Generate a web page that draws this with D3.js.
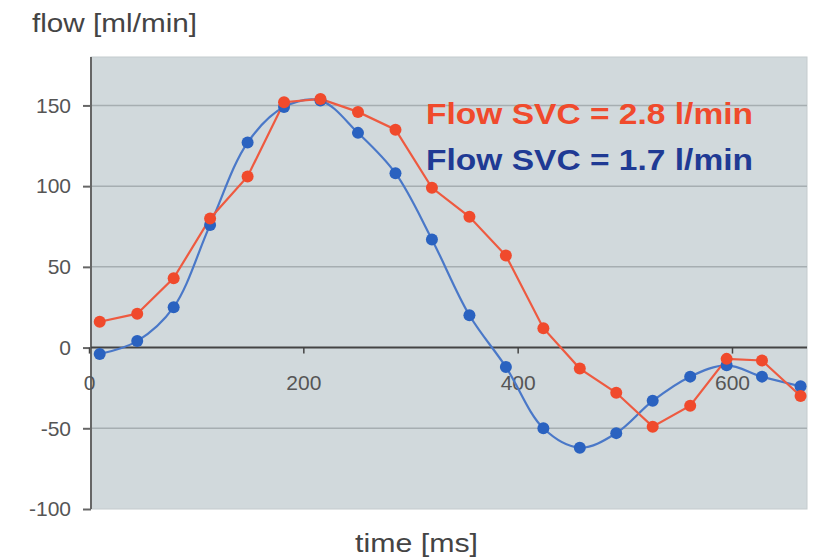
<!DOCTYPE html>
<html lang="en">
    <head>
        <meta charset="utf-8">
        <title>Flow SVC</title>
        <script type="text/javascript" src="https://cdn.jsdelivr.net/npm/d3@7"></script>
        <style type="text/css">
            body { margin: 0; background: #fff; }
            text { font-family: "Liberation Sans", Arial, sans-serif; }
        </style>
    </head>
    <body>
        <script type="text/javascript">

            //Width and height
            var w = 823;
            var h = 560;

            // time of each sample [ms]
            var times = [10, 45, 79, 113, 148, 182, 216, 251, 286, 320,
                         355, 389, 424, 458, 492, 526, 561, 595, 628, 664];

            // red series: flow SVC = 2.8 l/min
            var flowRed = [16, 21, 43, 80, 106, 152, 154, 146, 135, 99,
                           81, 57, 12, -13, -28, -49, -36, -7, -8, -30];

            // blue series: flow SVC = 1.7 l/min
            var flowBlue = [-4, 4, 25, 76, 127, 149, 153, 133, 108, 67,
                            20, -12, -50, -62, -53, -33, -18, -11, -18, -24];

            var yTicks = [150, 100, 50, 0, -50, -100];
            var xTicks = [0, 200, 400, 600];
            var legendLabels = ["Flow SVC = 2.8 l/min", "Flow SVC = 1.7 l/min"];

            var redColor = "#f04a2c";
            var blueColor = "#2a62c0";

            // plot box
            var pLeft = 91, pRight = 807, pTop = 57, pBottom = 509;

            var x = d3.scaleLinear().domain([0, 670]).range([89, pRight]);
            var y = d3.scaleLinear().domain([-100, 180]).range([pBottom, pTop]);

            var svg = d3.select("body")
                        .append("svg")
                        .attr("width", w)
                        .attr("height", h);

            // plot background
            svg.append("rect")
               .attr("x", pLeft)
               .attr("y", pTop)
               .attr("width", pRight - pLeft)
               .attr("height", pBottom - pTop)
               .attr("fill", "#d1d9dc")
               .attr("stroke", "#c4cbce");

            // gridlines
            svg.selectAll("line.grid")
               .data(yTicks.filter(function(d) { return d != 0 && d != -100; }))
               .enter()
               .append("line")
               .attr("class", "grid")
               .attr("x1", pLeft)
               .attr("x2", pRight)
               .attr("y1", function(d) { return y(d); })
               .attr("y2", function(d) { return y(d); })
               .style("stroke", "#a6aeb1")
               .style("stroke-width", 1.5);

            // y axis
            var yAxis = d3.axisLeft(y)
                          .tickValues(yTicks)
                          .tickFormat(String)
                          .tickSize(8)
                          .tickPadding(12);
            var gy = svg.append("g")
                        .attr("transform", "translate(" + pLeft + ",0)")
                        .call(yAxis);
            gy.select(".domain").attr("d", "M0," + pTop + "V" + pBottom)
              .style("stroke", "#666").style("stroke-width", 2);
            gy.selectAll(".tick line").style("stroke", "#666").style("stroke-width", 2);
            gy.selectAll(".tick text")
              .attr("fill", "#555")
              .style("font-size", "21px");

            // x axis on the zero line
            var xAxis = d3.axisBottom(x)
                          .tickValues(xTicks)
                          .tickFormat(String)
                          .tickSize(6)
                          .tickPadding(22);
            var gx = svg.append("g")
                        .attr("transform", "translate(0," + y(0) + ")")
                        .call(xAxis);
            gx.select(".domain").attr("d", "M" + pLeft + ",0H" + pRight)
              .style("stroke", "#444").style("stroke-width", 2);
            gx.selectAll(".tick line").style("stroke", "#444").style("stroke-width", 1.5);
            gx.selectAll(".tick text")
              .attr("fill", "#555")
              .style("font-size", "21px");

            var redData = times.map(function(t, i) { return [t, flowRed[i]]; });
            var blueData = times.map(function(t, i) { return [t, flowBlue[i]]; });

            var straight = d3.line()
                             .x(function(d) { return x(d[0]); })
                             .y(function(d) { return y(d[1]); });
            var smooth = d3.line()
                           .curve(d3.curveCatmullRom.alpha(0.5))
                           .x(function(d) { return x(d[0]); })
                           .y(function(d) { return y(d[1]); });

            svg.append("path")
               .datum(blueData)
               .attr("d", smooth)
               .attr("fill", "none")
               .style("stroke", "#4a78c8")
               .style("stroke-width", 2.2);

            svg.append("path")
               .datum(redData)
               .attr("d", straight)
               .attr("fill", "none")
               .style("stroke", "#ee5a40")
               .style("stroke-width", 2.2);

            svg.selectAll("circle.blue")
               .data(blueData)
               .enter()
               .append("circle")
               .attr("class", "blue")
               .attr("cx", function(d) { return x(d[0]); })
               .attr("cy", function(d) { return y(d[1]); })
               .attr("r", 6)
               .attr("fill", blueColor);

            svg.selectAll("circle.red")
               .data(redData)
               .enter()
               .append("circle")
               .attr("class", "red")
               .attr("cx", function(d) { return x(d[0]); })
               .attr("cy", function(d) { return y(d[1]); })
               .attr("r", 6)
               .attr("fill", redColor);

            // legend text
            svg.selectAll("text.legend")
               .data(legendLabels)
               .enter()
               .append("text")
               .attr("class", "legend")
               .attr("x", 426)
               .attr("y", function(d, i) { return 124 + i * 46; })
               .attr("fill", function(d, i) { return i == 0 ? "#f04a2c" : "#1f3a94"; })
               .attr("textLength", 327)
               .attr("lengthAdjust", "spacingAndGlyphs")
               .style("font-size", "30px")
               .style("font-weight", "bold")
               .text(function(d) { return d; });

            // axis titles
            svg.append("text")
               .text("flow [ml/min]")
               .attr("x", 32)
               .attr("y", 32)
               .attr("fill", "#444")
               .attr("textLength", 165)
               .attr("lengthAdjust", "spacingAndGlyphs")
               .style("font-size", "25px");

            svg.append("text")
               .text("time [ms]")
               .attr("x", 355)
               .attr("y", 552)
               .attr("fill", "#444")
               .attr("textLength", 123)
               .attr("lengthAdjust", "spacingAndGlyphs")
               .style("font-size", "25px");

        </script>
    </body>
</html>
